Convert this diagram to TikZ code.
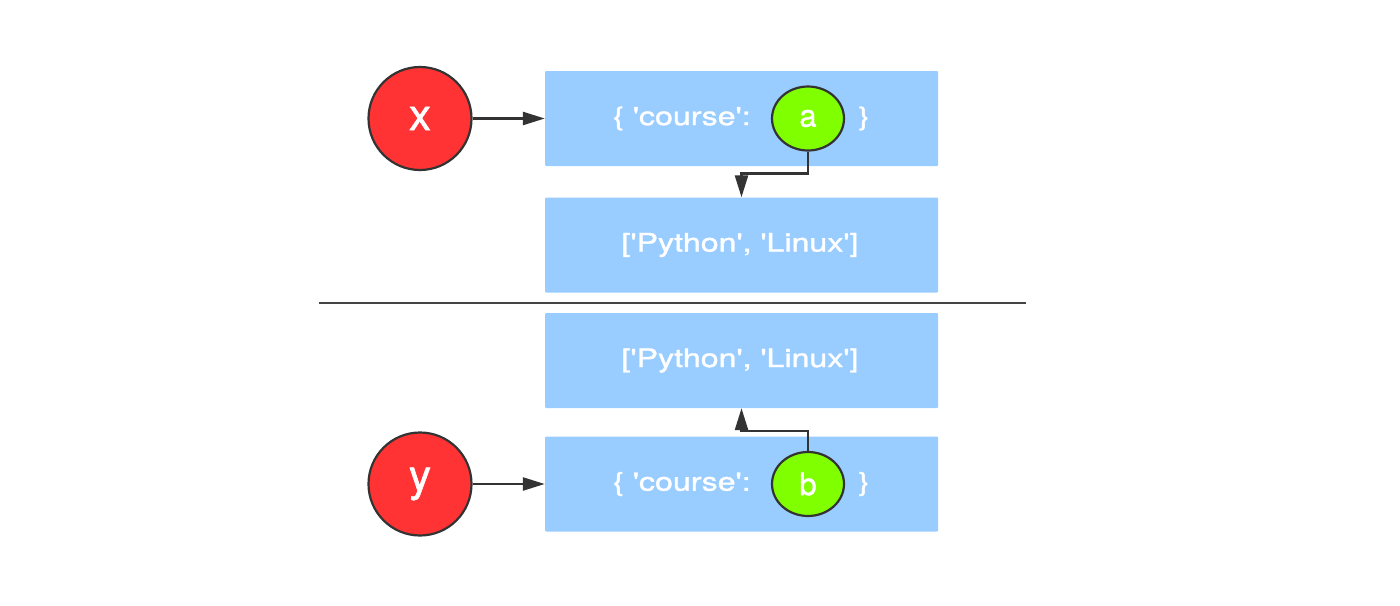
\documentclass[tikz,border=0pt]{standalone}
\usepackage{fontspec}
\usepackage{graphicx}
\setmainfont{TeX Gyre Heros}[Ligatures=ResetAll]
\newfontfamily\boxfont{TeX Gyre Heros}[Ligatures=ResetAll,FakeBold=1.2]
\usetikzlibrary{arrows.meta,shapes.geometric,calc}
\definecolor{boxblue}{HTML}{99CCFF}
\definecolor{redc}{HTML}{FF3333}
\definecolor{greenc}{HTML}{80FF00}
\definecolor{linec}{HTML}{333333}
\definecolor{sepc}{HTML}{444444}
\newcommand{\boxtxt}[1]{\boxfont\fontsize{25.5}{30}\selectfont\scalebox{1.26}[1]{#1}}
\newcommand{\sq}{\char"0027{}}
\begin{document}
\begin{tikzpicture}[x=1pt,y=-1pt,
  valbox/.style={rectangle,fill=boxblue,minimum width=393pt,minimum height=95pt,inner sep=0pt,rounded corners=1pt},
  var/.style={circle,fill=redc,draw=linec,line width=2.2pt,minimum size=103pt,inner sep=0pt,text=white,font=\boxfont\fontsize{44}{50}\selectfont},
  key/.style={ellipse,fill=greenc,draw=linec,line width=2.2pt,minimum width=72pt,minimum height=64pt,inner sep=0pt,text=white,font=\boxfont\fontsize{31}{36}\selectfont},
  lbl/.style={text=white,inner sep=0pt},
  conn/.style={draw=linec,line width=2.5pt,-{Triangle[length=22pt,width=13pt]}},
  sepline/.style={draw=sepc,line width=2.5pt}]
\useasboundingbox (0,0) rectangle (1400,605);
% top half
\node[valbox] (box1) at (741.5,118.5) {};
\node[valbox] (box2) at (741.5,245) {};
\node[lbl,anchor=west] (k1) at (613,118.5) {\boxtxt{\{ \sq course\sq:}};
\node[lbl] (c1) at (864,118.5) {\boxtxt{\}}};
\node[lbl] (l1) at (740,245) {\boxtxt{[\sq Python\sq, \sq Linux\sq]}};
\node[var] (x) at (420,118.5) {x};
\node[key] (a) at (808,118.5) {a};
\draw[conn] (x) -- (box1);
\draw[conn] (a.south) |- ($(box2.north)+(0,-24)$) -- (box2.north);
% separator
\coordinate (s1) at (319,303);
\coordinate (s2) at (1026,303);
\draw[sepline] (s1) -- (s2);
% bottom half
\node[valbox] (box3) at (741.5,360.5) {};
\node[valbox] (box4) at (741.5,484) {};
\node[lbl] (l3) at (740,360.5) {\boxtxt{[\sq Python\sq, \sq Linux\sq]}};
\node[lbl,anchor=west] (k4) at (613,484) {\boxtxt{\{ \sq course\sq:}};
\node[lbl] (c4) at (864,484) {\boxtxt{\}}};
\node[var] (y) at (420,484) {y};
\node[key] (b) at (808,484) {b};
\draw[conn] (y) -- (box4);
\draw[conn] (b.north) |- ($(box3.south)+(0,23)$) -- (box3.south);
\end{tikzpicture}
\end{document}
